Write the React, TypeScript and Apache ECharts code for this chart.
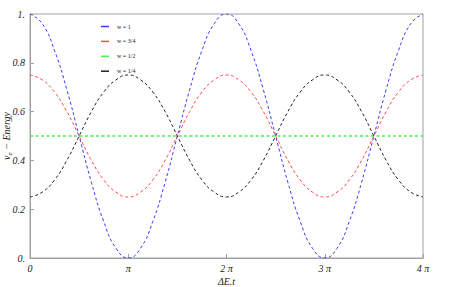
import React, { useEffect, useRef } from "react";
import * as echarts from "echarts";

// t in units of π (steps of π/8)
const tValues = [
  0, 0.125, 0.25, 0.375, 0.5, 0.625, 0.75, 0.875,
  1, 1.125, 1.25, 1.375, 1.5, 1.625, 1.75, 1.875,
  2, 2.125, 2.25, 2.375, 2.5, 2.625, 2.75, 2.875,
  3, 3.125, 3.25, 3.375, 3.5, 3.625, 3.75, 3.875, 4,
];

const w1 = [
  1, 0.96, 0.85, 0.69, 0.5, 0.31, 0.15, 0.04,
  0, 0.04, 0.15, 0.31, 0.5, 0.69, 0.85, 0.96,
  1, 0.96, 0.85, 0.69, 0.5, 0.31, 0.15, 0.04,
  0, 0.04, 0.15, 0.31, 0.5, 0.69, 0.85, 0.96, 1,
];
const w34 = [
  0.75, 0.73, 0.68, 0.6, 0.5, 0.4, 0.32, 0.27,
  0.25, 0.27, 0.32, 0.4, 0.5, 0.6, 0.68, 0.73,
  0.75, 0.73, 0.68, 0.6, 0.5, 0.4, 0.32, 0.27,
  0.25, 0.27, 0.32, 0.4, 0.5, 0.6, 0.68, 0.73, 0.75,
];
const w12 = [
  0.5, 0.5, 0.5, 0.5, 0.5, 0.5, 0.5, 0.5,
  0.5, 0.5, 0.5, 0.5, 0.5, 0.5, 0.5, 0.5,
  0.5, 0.5, 0.5, 0.5, 0.5, 0.5, 0.5, 0.5,
  0.5, 0.5, 0.5, 0.5, 0.5, 0.5, 0.5, 0.5, 0.5,
];
const w14 = [
  0.25, 0.27, 0.32, 0.4, 0.5, 0.6, 0.68, 0.73,
  0.75, 0.73, 0.68, 0.6, 0.5, 0.4, 0.32, 0.27,
  0.25, 0.27, 0.32, 0.4, 0.5, 0.6, 0.68, 0.73,
  0.75, 0.73, 0.68, 0.6, 0.5, 0.4, 0.32, 0.27, 0.25,
];

const seriesNames = ["w = 1", "w = 3/4", "w = 1/2", "w = 1/4"];
const seriesColors = ["#3a3aff", "#ff4a4a", "#4cee4c", "#222222"];
const seriesWidths = [1, 1, 1.6, 1];
const seriesData = [w1, w34, w12, w14];

const xTickLabels: Record<number, string> = { 0: "0", 1: "π", 2: "2 π", 3: "3 π", 4: "4 π" };
const yTickLabels: Record<string, string> = { "0": "0.", "0.2": "0.2", "0.4": "0.4", "0.6": "0.6", "0.8": "0.8", "1": "1." };

const FONT = "Liberation Serif";

export default function App() {
  const ref = useRef<HTMLDivElement>(null);
  useEffect(() => {
    if (!ref.current) return;
    const chart = echarts.init(ref.current, undefined, { renderer: "svg" });
    chart.setOption({
      animation: false,
      backgroundColor: "#ffffff",
      grid: {
        left: 30,
        right: 40,
        top: 14,
        bottom: 29,
        outerBoundsMode: "none",
        containLabel: false,
        show: true,
        borderColor: "#a0a0a0",
        borderWidth: 1,
      },
      legend: {
        orient: "vertical",
        left: 96,
        top: 17.5,
        itemGap: 6.9,
        itemWidth: 8,
        itemHeight: 1.5,
        icon: "rect",
        textStyle: { fontFamily: FONT, fontSize: 6, lineHeight: 8, color: "#222", padding: [0, 0, 0, 3] },
        data: seriesNames.map((n, i) => ({
          name: n,
          itemStyle: { color: seriesColors[i] },
        })),
      },
      xAxis: {
        type: "value",
        min: 0,
        max: 4,
        interval: 1,
        name: "ΔE.t",
        nameLocation: "middle",
        nameGap: 18,
        nameMoveOverlap: false,
        nameTextStyle: { fontFamily: FONT, fontStyle: "italic", fontSize: 10, color: "#222" },
        axisLine: { show: true, lineStyle: { color: "#a0a0a0" } },
        axisTick: { show: true, inside: true, length: 4, lineStyle: { color: "#a0a0a0" } },
        splitLine: { show: false },
        axisLabel: {
          fontFamily: FONT,
          fontStyle: "italic",
          fontSize: 10,
          color: "#222",
          margin: 5,
          formatter: (v: number) => xTickLabels[v] ?? "",
        },
      },
      yAxis: {
        type: "value",
        min: 0,
        max: 1,
        interval: 0.2,
        name: "{a|v}{s|e}{a| − Energy}",
        nameLocation: "middle",
        nameGap: 17,
        nameMoveOverlap: false,
        nameTextStyle: {
          rich: {
            a: { fontFamily: FONT, fontStyle: "italic", fontSize: 10, color: "#222" },
            s: { fontFamily: FONT, fontStyle: "italic", fontSize: 7, color: "#222", verticalAlign: "bottom", padding: [6, 0, 0, 0] },
          },
        },
        axisLine: { show: true, lineStyle: { color: "#a0a0a0" } },
        axisTick: { show: true, inside: true, length: 4, lineStyle: { color: "#a0a0a0" } },
        splitLine: { show: false },
        axisLabel: {
          fontFamily: FONT,
          fontStyle: "italic",
          fontSize: 10,
          color: "#222",
          margin: 5,
          formatter: (v: number) => yTickLabels[String(Math.round(v * 10) / 10)] ?? "",
        },
      },
      series: seriesNames.map((n, i) => ({
        name: n,
        type: "line",
        smooth: true,
        showSymbol: false,
        symbol: "none",
        color: seriesColors[i],
        lineStyle: { color: seriesColors[i], width: seriesWidths[i], type: [3, 2.5] },
        data: tValues.map((t, k) => [t, seriesData[i][k]]),
      })),
    });
    return () => chart.dispose();
  }, []);
  return (
    <div
      ref={ref}
      style={{ position: "fixed", left: 0, top: 0, width: 463, height: 287, background: "#fff" }}
    />
  );
}
